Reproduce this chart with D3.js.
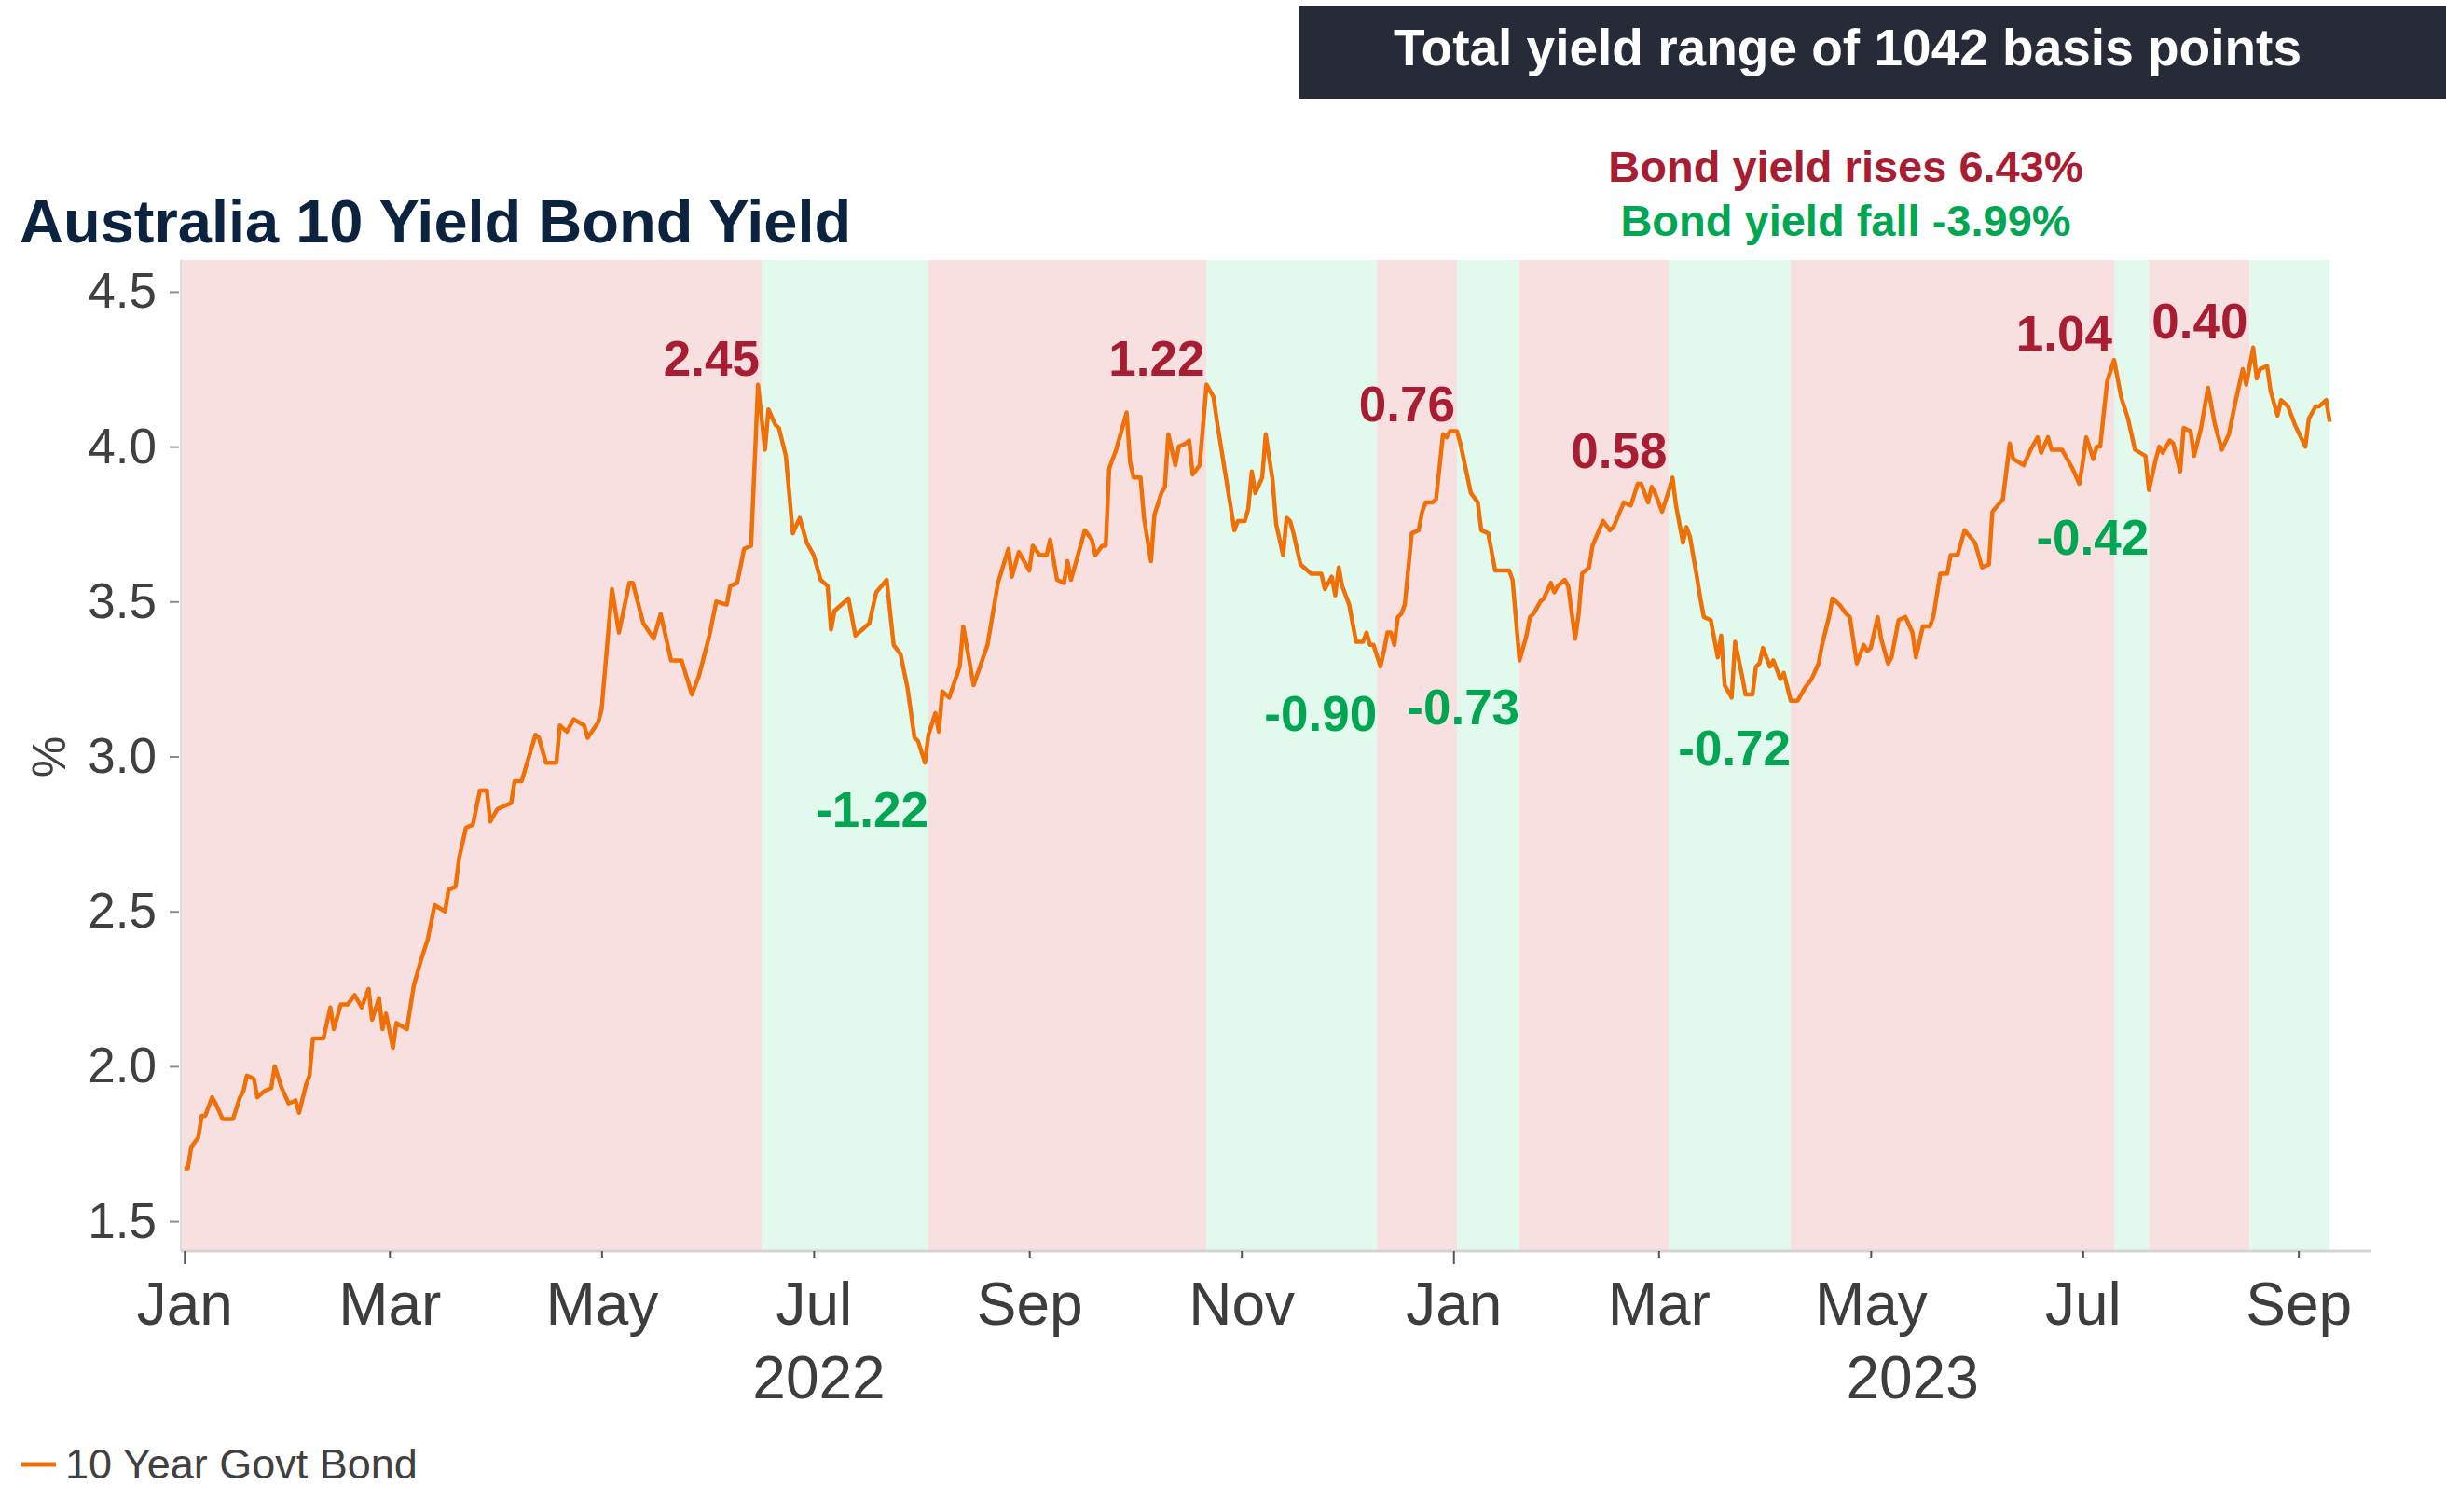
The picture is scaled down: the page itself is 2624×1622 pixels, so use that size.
<!DOCTYPE html>
<html>
<head>
<meta charset="utf-8">
<script src="https://cdn.jsdelivr.net/npm/d3@7"></script>
<style>
  body { margin: 0; background: #fff; }
  svg { display: block; font-family: "Liberation Sans", Arial, sans-serif; }
</style>
</head>
<body>
<svg id="chart" width="2624" height="1622"></svg>
<script>
// 10 year govt bond yield
const dates = [
  "2022-01-01","2022-01-02","2022-01-03","2022-01-05","2022-01-06","2022-01-07","2022-01-09","2022-01-10","2022-01-12","2022-01-14",
  "2022-01-15","2022-01-17","2022-01-18","2022-01-19","2022-01-21","2022-01-22","2022-01-24","2022-01-26","2022-01-27","2022-01-29",
  "2022-01-31","2022-02-02","2022-02-03","2022-02-05","2022-02-06","2022-02-07","2022-02-10","2022-02-12","2022-02-13","2022-02-15",
  "2022-02-17","2022-02-19","2022-02-21","2022-02-23","2022-02-24","2022-02-26","2022-02-27","2022-02-28","2022-03-02","2022-03-03",
  "2022-03-06","2022-03-08","2022-03-10","2022-03-12","2022-03-14","2022-03-17","2022-03-18","2022-03-20","2022-03-21","2022-03-23",
  "2022-03-25","2022-03-27","2022-03-29","2022-03-30","2022-04-01","2022-04-05","2022-04-06","2022-04-08","2022-04-12","2022-04-13",
  "2022-04-15","2022-04-18","2022-04-19","2022-04-21","2022-04-23","2022-04-26","2022-04-27","2022-04-30","2022-05-01","2022-05-04",
  "2022-05-06","2022-05-09","2022-05-10","2022-05-13","2022-05-16","2022-05-18","2022-05-21","2022-05-24","2022-05-27","2022-05-29",
  "2022-06-01","2022-06-03","2022-06-06","2022-06-07","2022-06-09","2022-06-11","2022-06-13","2022-06-14","2022-06-15","2022-06-17",
  "2022-06-18","2022-06-20","2022-06-21","2022-06-23","2022-06-25","2022-06-27","2022-06-29","2022-07-01","2022-07-03","2022-07-05",
  "2022-07-06","2022-07-07","2022-07-11","2022-07-13","2022-07-15","2022-07-17","2022-07-19","2022-07-22","2022-07-24","2022-07-26",
  "2022-07-28","2022-07-30","2022-07-31","2022-08-02","2022-08-03","2022-08-05","2022-08-06","2022-08-07","2022-08-09","2022-08-12",
  "2022-08-13","2022-08-16","2022-08-20","2022-08-23","2022-08-26","2022-08-27","2022-08-29","2022-09-01","2022-09-02","2022-09-04",
  "2022-09-06","2022-09-07","2022-09-09","2022-09-11","2022-09-12","2022-09-13","2022-09-15","2022-09-17","2022-09-19","2022-09-20",
  "2022-09-22","2022-09-23","2022-09-24","2022-09-26","2022-09-27","2022-09-29","2022-09-30","2022-10-01","2022-10-03","2022-10-04",
  "2022-10-06","2022-10-07","2022-10-09","2022-10-10","2022-10-11","2022-10-13","2022-10-14","2022-10-16","2022-10-17","2022-10-18",
  "2022-10-20","2022-10-22","2022-10-24","2022-10-25","2022-10-27","2022-10-30","2022-10-31","2022-11-02","2022-11-03","2022-11-04",
  "2022-11-05","2022-11-07","2022-11-08","2022-11-10","2022-11-11","2022-11-13","2022-11-14","2022-11-15","2022-11-16","2022-11-18",
  "2022-11-19","2022-11-21","2022-11-24","2022-11-25","2022-11-27","2022-11-28","2022-11-29","2022-11-30","2022-12-02","2022-12-03",
  "2022-12-04","2022-12-06","2022-12-07","2022-12-08","2022-12-09","2022-12-11","2022-12-12","2022-12-13","2022-12-14","2022-12-15",
  "2022-12-16","2022-12-17","2022-12-18","2022-12-20","2022-12-22","2022-12-23","2022-12-24","2022-12-26","2022-12-27","2022-12-29",
  "2022-12-30","2022-12-31","2023-01-02","2023-01-03","2023-01-06","2023-01-08","2023-01-09","2023-01-11","2023-01-13","2023-01-17",
  "2023-01-18","2023-01-20","2023-01-22","2023-01-23","2023-01-24","2023-01-26","2023-01-27","2023-01-29","2023-01-30","2023-01-31",
  "2023-02-02","2023-02-03","2023-02-05","2023-02-06","2023-02-07","2023-02-09","2023-02-10","2023-02-13","2023-02-15","2023-02-16",
  "2023-02-19","2023-02-21","2023-02-23","2023-02-24","2023-02-26","2023-02-27","2023-02-28","2023-03-02","2023-03-04","2023-03-05",
  "2023-03-06","2023-03-08","2023-03-09","2023-03-10","2023-03-12","2023-03-13","2023-03-14","2023-03-16","2023-03-18","2023-03-19",
  "2023-03-20","2023-03-22","2023-03-23","2023-03-25","2023-03-26","2023-03-28","2023-03-29","2023-03-30","2023-03-31","2023-04-02",
  "2023-04-03","2023-04-05","2023-04-06","2023-04-08","2023-04-10","2023-04-12","2023-04-14","2023-04-16","2023-04-17","2023-04-19",
  "2023-04-20","2023-04-22","2023-04-24","2023-04-25","2023-04-27","2023-04-29","2023-04-30","2023-05-01","2023-05-03","2023-05-04",
  "2023-05-06","2023-05-07","2023-05-09","2023-05-11","2023-05-13","2023-05-14","2023-05-16","2023-05-18","2023-05-19","2023-05-21",
  "2023-05-23","2023-05-24","2023-05-26","2023-05-28","2023-05-31","2023-06-02","2023-06-04","2023-06-05","2023-06-08","2023-06-10",
  "2023-06-11","2023-06-14","2023-06-16","2023-06-18","2023-06-19","2023-06-21","2023-06-22","2023-06-25","2023-06-27","2023-06-28",
  "2023-06-30","2023-07-01","2023-07-02","2023-07-04","2023-07-05","2023-07-06","2023-07-08","2023-07-10","2023-07-12","2023-07-14",
  "2023-07-16","2023-07-19","2023-07-20","2023-07-22","2023-07-23","2023-07-24","2023-07-26","2023-07-27","2023-07-29","2023-07-30",
  "2023-08-01","2023-08-02","2023-08-04","2023-08-06","2023-08-08","2023-08-10","2023-08-12","2023-08-14","2023-08-16","2023-08-17",
  "2023-08-19","2023-08-20","2023-08-21","2023-08-23","2023-08-24","2023-08-26","2023-08-27","2023-08-29","2023-08-31","2023-09-03",
  "2023-09-04","2023-09-06","2023-09-07","2023-09-09","2023-09-10"
];
const yields = [
  1.67,1.67,1.74,1.77,1.84,1.84,1.90,1.88,1.83,1.83,
  1.83,1.90,1.92,1.97,1.96,1.90,1.92,1.93,2.00,1.93,
  1.88,1.89,1.85,1.94,1.97,2.09,2.09,2.19,2.12,2.20,
  2.20,2.23,2.19,2.25,2.15,2.22,2.12,2.17,2.06,2.14,
  2.12,2.26,2.34,2.41,2.52,2.50,2.57,2.58,2.67,2.77,
  2.78,2.89,2.89,2.79,2.83,2.85,2.92,2.92,3.07,3.06,
  2.98,2.98,3.10,3.08,3.12,3.10,3.06,3.11,3.15,3.54,
  3.40,3.56,3.56,3.43,3.38,3.46,3.31,3.31,3.20,3.26,
  3.39,3.50,3.49,3.55,3.56,3.67,3.68,3.94,4.20,3.99,
  4.12,4.07,4.06,3.97,3.72,3.77,3.69,3.65,3.57,3.55,
  3.41,3.47,3.51,3.39,3.41,3.43,3.53,3.57,3.36,3.33,
  3.22,3.06,3.05,2.98,3.07,3.14,3.08,3.21,3.19,3.29,
  3.42,3.23,3.36,3.56,3.67,3.58,3.66,3.60,3.68,3.65,
  3.65,3.70,3.57,3.56,3.63,3.57,3.65,3.73,3.70,3.65,
  3.68,3.68,3.93,3.99,4.03,4.11,3.95,3.90,3.90,3.77,
  3.63,3.78,3.85,3.87,4.04,3.94,4.00,4.01,4.02,3.91,
  3.94,4.20,4.16,4.08,3.94,3.73,3.76,3.76,3.80,3.92,
  3.85,3.90,4.04,3.89,3.75,3.65,3.77,3.76,3.72,3.62,
  3.61,3.59,3.59,3.54,3.58,3.52,3.61,3.55,3.49,3.43,
  3.37,3.37,3.40,3.36,3.36,3.29,3.34,3.40,3.40,3.36,
  3.45,3.46,3.49,3.72,3.73,3.79,3.82,3.82,3.83,4.04,
  4.03,4.05,4.05,4.01,3.85,3.82,3.73,3.72,3.60,3.60,
  3.57,3.31,3.39,3.45,3.46,3.50,3.51,3.56,3.53,3.55,
  3.57,3.55,3.38,3.46,3.59,3.61,3.68,3.76,3.73,3.74,
  3.82,3.81,3.88,3.88,3.82,3.87,3.85,3.79,3.86,3.90,
  3.81,3.69,3.74,3.71,3.58,3.51,3.45,3.44,3.32,3.39,
  3.23,3.19,3.37,3.26,3.20,3.20,3.29,3.30,3.35,3.29,
  3.31,3.25,3.27,3.18,3.18,3.22,3.25,3.30,3.36,3.45,
  3.51,3.49,3.46,3.45,3.30,3.36,3.34,3.35,3.45,3.38,
  3.30,3.32,3.44,3.45,3.40,3.32,3.42,3.42,3.45,3.59,
  3.59,3.65,3.65,3.73,3.69,3.61,3.62,3.79,3.83,4.01,
  3.96,3.94,3.99,4.03,3.98,4.03,3.99,3.99,3.95,3.93,
  3.88,3.95,4.03,3.96,4.00,4.00,4.21,4.28,4.16,4.09,
  3.99,3.97,3.86,3.96,4.00,3.98,4.02,4.01,3.92,4.06,
  4.05,3.97,4.06,4.19,4.07,3.99,4.04,4.15,4.25,4.20,
  4.32,4.22,4.25,4.26,4.18,4.10,4.15,4.13,4.07,4.00,
  4.09,4.13,4.13,4.15,4.08
];

// shaded rise / fall periods: boundaries, kind of each band, and the move written at its end
const turnDates = ["2021-12-31","2022-06-16","2022-08-03","2022-10-22","2022-12-10","2023-01-02","2023-01-20",
                   "2023-03-04","2023-04-08","2023-07-10","2023-07-20","2023-08-18","2023-09-10"];
const bandKinds = ["rise","fall","rise","fall","rise","fall","rise","fall","rise","fall","rise","fall"];
const moveLabels = ["2.45","-1.22","1.22","-0.90","0.76","-0.73","0.58","-0.72","1.04","-0.42","0.40",""];

const yTicks = [1.5, 2.0, 2.5, 3.0, 3.5, 4.0, 4.5];
const monthTicks = ["2022-01-01","2022-03-01","2022-05-01","2022-07-01","2022-09-01","2022-11-01",
                    "2023-01-01","2023-03-01","2023-05-01","2023-07-01","2023-09-01"];
const yearLabels = ["2022","2023"];

const parse = d3.timeParse("%Y-%m-%d");
const series = dates.map((d, i) => ({ date: parse(d), value: yields[i] }));

const svg = d3.select("#chart");
const plotLeft = 194, plotRight = 2544, plotTop = 279, plotBottom = 1342;

const x = d3.scaleTime()
  .domain([parse("2021-12-31"), parse("2023-09-22")])
  .range([plotLeft, plotRight]);
const y = d3.scaleLinear()
  .domain([1.404, 4.602])
  .range([plotBottom, plotTop]);

const pink = "#f8dfe0", mint = "#e2f9ed";
const red = "#a81d31", green = "#00a651", orange = "#f07008";

// bands
const bands = bandKinds.map((k, i) => ({
  kind: k,
  start: parse(turnDates[i]),
  end: parse(turnDates[i + 1]),
  label: moveLabels[i]
}));

svg.append("g")
  .selectAll("rect")
  .data(bands)
  .join("rect")
  .attr("x", d => x(d.start))
  .attr("y", plotTop)
  .attr("width", d => x(d.end) - x(d.start))
  .attr("height", plotBottom - plotTop)
  .attr("fill", d => d.kind == "rise" ? pink : mint);

// plot frame (left side)
svg.append("line")
  .attr("x1", plotLeft).attr("x2", plotLeft).attr("y1", plotTop).attr("y2", plotBottom)
  .attr("stroke", "#dcdcdc").attr("stroke-width", 2);

// y axis
const yAxis = svg.append("g")
  .attr("transform", `translate(${plotLeft - 2},0)`)
  .call(d3.axisLeft(y).tickValues(yTicks).tickFormat(d3.format(".1f")).tickSize(10).tickPadding(14));
yAxis.select(".domain").remove();
yAxis.selectAll(".tick line").attr("stroke", "#8c8c8c").attr("stroke-width", 2);
yAxis.selectAll(".tick text")
  .style("font-size", "53px")
  .style("font-family", "'Liberation Sans', Arial, sans-serif")
  .attr("fill", "#404040");

svg.append("text")
  .attr("transform", "translate(70,812) rotate(-90)")
  .attr("text-anchor", "middle")
  .style("font-size", "50px")
  .attr("fill", "#404040")
  .text("%");

// x axis
const xAxis = svg.append("g")
  .attr("transform", `translate(0,${plotBottom})`)
  .call(d3.axisBottom(x).tickValues(monthTicks.map(parse)).tickFormat(d3.timeFormat("%b")).tickSize(7).tickPadding(27));
xAxis.select(".domain").attr("stroke", "#d4d4d4").attr("stroke-width", 3)
  .attr("d", `M${plotLeft},0H${plotRight}`);
xAxis.selectAll(".tick line")
  .attr("stroke", "#555")
  .attr("stroke-width", 2)
  .attr("y2", d => d.getMonth() == 0 ? 14 : 7);
xAxis.selectAll(".tick text")
  .style("font-size", "64px")
  .style("font-family", "'Liberation Sans', Arial, sans-serif")
  .attr("fill", "#3d3d3d");

svg.append("g")
  .selectAll("text")
  .data(yearLabels)
  .join("text")
  .attr("x", d => {
    const a = Math.max(plotLeft, x(parse(d + "-01-01")));
    const b = Math.min(plotRight, x(parse((+d + 1) + "-01-01")));
    return (a + b) / 2;
  })
  .attr("y", 1500)
  .attr("text-anchor", "middle")
  .style("font-size", "64px")
  .attr("fill", "#3d3d3d")
  .text(d => d);

// the line
const line = d3.line()
  .x(d => x(d.date))
  .y(d => y(d.value));

svg.append("path")
  .datum(series)
  .attr("d", line)
  .attr("fill", "none")
  .attr("stroke", orange)
  .attr("stroke-width", 4.5)
  .attr("stroke-linejoin", "round");

// move labels at end of each band
const dayMs = 864e5;
svg.append("g")
  .selectAll("text")
  .data(bands.filter(d => d.label != ""))
  .join("text")
  .attr("x", d => x(d.end) - (d.kind == "rise" ? 2 : 0))
  .attr("y", d => {
    const pts = series.filter(p => p.date >= d.start - dayMs && p.date <= +d.end + dayMs);
    return d.kind == "rise"
      ? y(d3.max(pts, p => p.value)) - 10
      : y(d3.min(pts, p => p.value)) + 69;
  })
  .attr("text-anchor", "end")
  .style("font-size", "53px")
  .style("font-weight", 700)
  .attr("fill", d => d.kind == "rise" ? red : green)
  .text(d => d.label);

// titles and notes
svg.append("text")
  .attr("x", 21).attr("y", 260)
  .style("font-size", "65px").style("font-weight", 700)
  .attr("fill", "#0c2340")
  .text("Australia 10 Yield Bond Yield");

svg.append("rect")
  .attr("x", 1393).attr("y", 6)
  .attr("width", 2624 - 1393).attr("height", 100)
  .attr("fill", "#272b37");
svg.append("text")
  .attr("x", 1982).attr("y", 70)
  .attr("text-anchor", "middle")
  .style("font-size", "55px").style("font-weight", 700)
  .attr("fill", "#fff")
  .text("Total yield range of 1042 basis points");

svg.append("text")
  .attr("x", 1980).attr("y", 195)
  .attr("text-anchor", "middle")
  .style("font-size", "47px").style("font-weight", 700)
  .attr("fill", red)
  .text("Bond yield rises 6.43%");
svg.append("text")
  .attr("x", 1980).attr("y", 253)
  .attr("text-anchor", "middle")
  .style("font-size", "47px").style("font-weight", 700)
  .attr("fill", green)
  .text("Bond yield fall -3.99%");

// legend
svg.append("line")
  .attr("x1", 23).attr("x2", 60).attr("y1", 1571).attr("y2", 1571)
  .attr("stroke", orange).attr("stroke-width", 5);
svg.append("text")
  .attr("x", 70).attr("y", 1586)
  .style("font-size", "45px")
  .attr("fill", "#404040")
  .text("10 Year Govt Bond");
</script>
</body>
</html>
